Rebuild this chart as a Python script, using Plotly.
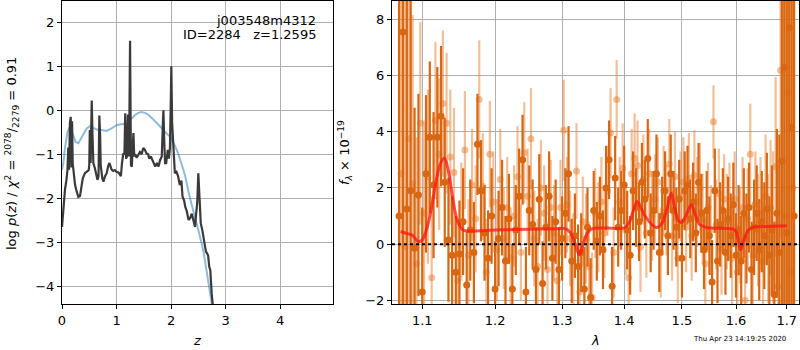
import plotly.graph_objects as go

# ---------------- left panel: p(z) ----------------
pz_z = [0.0, 0.01, 0.03, 0.055, 0.08, 0.10, 0.115, 0.13, 0.145, 0.16, 0.175, 0.185, 0.196,
        0.22, 0.24, 0.27, 0.30, 0.33, 0.36, 0.38, 0.42, 0.46, 0.49, 0.50, 0.51, 0.525, 0.545,
        0.56, 0.575, 0.60, 0.62, 0.65, 0.67, 0.685, 0.70, 0.71, 0.74, 0.76, 0.79, 0.82, 0.85,
        0.87, 0.91, 0.94, 0.97, 1.00, 1.04, 1.08, 1.10, 1.125, 1.145, 1.16, 1.175, 1.19, 1.21,
        1.23, 1.248, 1.265, 1.28, 1.295, 1.31, 1.325, 1.34, 1.37, 1.40, 1.43, 1.46, 1.49, 1.52,
        1.55, 1.58, 1.60, 1.63, 1.66, 1.69, 1.71, 1.74, 1.77, 1.80, 1.83, 1.85, 1.86, 1.875,
        1.89, 1.91, 1.94, 1.96, 1.98, 1.995, 2.005, 2.02, 2.04, 2.07, 2.10, 2.13, 2.16, 2.19,
        2.21, 2.24, 2.26, 2.29, 2.32, 2.35, 2.38, 2.41, 2.44, 2.46, 2.48, 2.50, 2.52, 2.545,
        2.57, 2.59, 2.62, 2.64, 2.66, 2.68, 2.70, 2.72, 2.745, 2.77, 2.80]
pz_logp = [-2.65, -2.45, -2.1, -1.8, -1.6, -1.36, -0.85, -1.35, -0.3, -0.15, -1.3, -0.25, -1.2,
           -1.5, -1.7, -1.85, -1.97, -1.95, -1.75, -1.55, -1.43, -1.40, -1.36, -1.25, -0.45, -1.2, 0.22,
           -0.6, -1.2, -1.3, -1.45, -1.58, -1.5, -0.12, -0.6, -1.25, -1.55, -1.62, -1.5, -1.43, -1.25,
           -1.2, -1.35, -1.38, -1.36, -1.40, -1.42, -1.5, -1.2, -0.98, -1.0, -0.07, -1.1, -1.05, -0.1,
           -1.05, 1.58, -1.25, -1.28, -0.9, -0.52, -1.05, -1.0, -1.08, -1.0, -0.95, -1.0, -0.86, -0.9,
           -0.98, -1.0, -1.1, -1.05, -1.15, -1.25, -1.28, -1.2, -1.28, -1.13, -1.05, -0.3, 0.0, -0.7,
           -1.2, -1.2, -0.9, -1.1, -0.85, 0.2, 1.0, -0.3, -0.67, -1.43, -1.4, -1.5, -1.7, -1.6,
           -1.96, -2.05, -2.19, -2.3, -2.49, -2.45, -2.35, -2.5, -2.65, -2.35, -2.1, -1.43, -1.9, -2.57,
           -2.7, -2.87, -3.1, -3.21, -3.25, -3.3, -3.55, -3.63, -4.16, -4.5, -4.9]

prior_z = [0.0, 0.025, 0.05, 0.075, 0.10, 0.13, 0.16, 0.20, 0.25, 0.30, 0.35, 0.40, 0.45, 0.51,
           0.57, 0.64, 0.72, 0.82, 0.90, 1.00, 1.08, 1.15, 1.20, 1.25, 1.30, 1.35, 1.40, 1.46,
           1.52, 1.58, 1.65, 1.72, 1.80, 1.88, 1.98, 2.05, 2.13, 2.20, 2.26, 2.32, 2.38, 2.43,
           2.47, 2.52, 2.56, 2.60, 2.65, 2.70, 2.75, 2.80]
prior_logp = [-1.35, -1.2, -0.9, -0.68, -0.5, -0.41, -0.42, -0.55, -0.72, -0.75, -0.65, -0.52, -0.42,
              -0.36, -0.40, -0.44, -0.45, -0.47, -0.42, -0.34, -0.32, -0.32, -0.31, -0.22, -0.15, -0.1,
              -0.06, -0.04, -0.06, -0.1, -0.18, -0.26, -0.37, -0.48, -0.6, -0.75, -0.98, -1.25, -1.5,
              -1.85, -2.19, -2.4, -2.57, -2.8, -3.02, -3.25, -3.63, -4.0, -4.39, -4.8]

# ---------------- right panel: spectrum ----------------
# grism spectrum, first orientation (dark)
lam_a = [1.070, 1.075, 1.080, 1.085, 1.090, 1.095, 1.100, 1.105, 1.110, 1.115,
         1.120, 1.125, 1.130, 1.135, 1.140, 1.145, 1.150, 1.155, 1.160, 1.165,
         1.170, 1.175, 1.180, 1.185, 1.190, 1.195, 1.200, 1.205, 1.210, 1.215,
         1.220, 1.225, 1.230, 1.235, 1.240, 1.245, 1.250, 1.255, 1.260, 1.265,
         1.270, 1.275, 1.280, 1.285, 1.290, 1.295, 1.300, 1.305, 1.310, 1.315,
         1.320, 1.325, 1.330, 1.335, 1.340, 1.345, 1.350, 1.355, 1.360, 1.365,
         1.370, 1.375, 1.380, 1.385, 1.390, 1.395, 1.400, 1.405, 1.410, 1.415,
         1.420, 1.425, 1.430, 1.435, 1.440, 1.445, 1.450, 1.455, 1.460, 1.465,
         1.470, 1.475, 1.480, 1.485, 1.490, 1.495, 1.500, 1.505, 1.510, 1.515,
         1.520, 1.525, 1.530, 1.535, 1.540, 1.545, 1.550, 1.555, 1.560, 1.565,
         1.570, 1.575, 1.580, 1.585, 1.590, 1.595, 1.600, 1.605, 1.610, 1.615,
         1.620, 1.625, 1.630, 1.635, 1.640, 1.645, 1.650, 1.655, 1.660, 1.665,
         1.670, 1.675, 1.680, 1.685, 1.690, 1.695, 1.700, 1.705, 1.710, 1.715]
flux_a = [1.0, 7.55, 1.25, 1.9, -0.15, 1.75, -1.7, 2.5, 3.8, 2.1,
          3.8, 4.55, 2.2, 0.15, -0.4, -1.0, -0.35, 0.8, -1.45, 0.5,
          -0.3, 3.55, 1.9, 0.4, -0.5, 1.0, -1.6, 0.2, 1.3, -0.6,
          0.9, -1.6, 0.5, 1.7, 3.0, -1.7, 1.2, 0.7, -0.9, 1.6,
          -1.4, 0.6, 1.7, -0.5, 0.8, -0.9, 0.2, 1.1, 2.5, -0.6,
          0.3, -0.8, -0.3, -1.6, 0.6, -1.9, 1.2, 0.1, 1.0, -0.2,
          2.0, 3.0, -1.5, 2.35, 0.6, 1.2, 2.1, 0.5, -0.4, 1.9,
          1.3, 0.8, 2.2, 1.6, 3.05, 0.4, 1.2, 2.5, -0.3, 1.0,
          1.9, 0.3, 2.5, 1.2, 0.6, 1.6, -0.5, 1.9, 2.1, 0.9,
          1.5, 0.4, 2.2, 1.1, -0.2, 1.2, 0.3, -1.35, 1.9, -0.6,
          0.7, 1.2, -0.3, 0.9, 0.3, 1.4, -0.4, 0.5, -0.6, 1.1,
          0.2, 1.3, -0.9, 0.6, 1.1, -0.2, 0.8, 0.3, 1.25, -0.4,
          0.5, -1.8, 1.1, -0.3, 2.95, 6.28, 0.4, 7.7, 4.15, 1.0]
err_a = [14, 14, 11, 7, 5, 3.6, 3.0, 2.8, 2.7, 2.6,
         2.5, 2.5, 2.3, 2.2, 2.1, 2.0, 1.9, 1.9, 1.9, 1.8,
         1.8, 1.8, 1.8, 1.7, 1.7, 1.7, 1.7, 1.7, 1.7, 1.6,
         1.6, 1.6, 1.6, 1.7, 1.6, 1.6, 1.6, 1.6, 1.5, 1.6,
         1.5, 1.5, 1.6, 1.5, 1.5, 1.5, 1.5, 1.6, 1.7, 1.5,
         1.5, 1.5, 1.4, 1.5, 1.4, 1.4, 1.4, 1.4, 1.4, 1.4,
         1.5, 1.4, 1.4, 1.5, 1.4, 1.4, 1.4, 1.4, 1.4, 1.4,
         1.4, 1.4, 1.4, 1.4, 1.4, 1.4, 1.4, 1.4, 1.4, 1.4,
         1.4, 1.4, 1.4, 1.4, 1.4, 1.4, 1.4, 1.4, 1.4, 1.4,
         1.4, 1.4, 1.4, 1.4, 1.4, 1.4, 1.4, 1.5, 1.5, 1.5,
         1.5, 1.5, 1.5, 1.5, 1.5, 1.5, 1.5, 1.6, 1.6, 1.6,
         1.6, 1.6, 1.7, 1.7, 1.7, 1.8, 1.8, 1.9, 2.0, 2.1,
         2.3, 2.6, 3.0, 4.2, 7, 10, 12, 14, 14, 14]

# second orientation (light)
lam_b = [1.0725, 1.0775, 1.0825, 1.0875, 1.0925, 1.0975, 1.1025, 1.1075, 1.1125, 1.1175,
         1.1225, 1.1275, 1.1325, 1.1375, 1.1425, 1.1475, 1.1525, 1.1575, 1.1625, 1.1675,
         1.1725, 1.1775, 1.1825, 1.1875, 1.1925, 1.1975, 1.2025, 1.2075, 1.2125, 1.2175,
         1.2225, 1.2275, 1.2325, 1.2375, 1.2425, 1.2475, 1.2525, 1.2575, 1.2625, 1.2675,
         1.2725, 1.2775, 1.2825, 1.2875, 1.2925, 1.2975, 1.3025, 1.3075, 1.3125, 1.3175,
         1.3225, 1.3275, 1.3325, 1.3375, 1.3425, 1.3475, 1.3525, 1.3575, 1.3625, 1.3675,
         1.3725, 1.3775, 1.3825, 1.3875, 1.3925, 1.3975, 1.4025, 1.4075, 1.4125, 1.4175,
         1.4225, 1.4275, 1.4325, 1.4375, 1.4425, 1.4475, 1.4525, 1.4575, 1.4625, 1.4675,
         1.4725, 1.4775, 1.4825, 1.4875, 1.4925, 1.4975, 1.5025, 1.5075, 1.5125, 1.5175,
         1.5225, 1.5275, 1.5325, 1.5375, 1.5425, 1.5475, 1.5525, 1.5575, 1.5625, 1.5675,
         1.5725, 1.5775, 1.5825, 1.5875, 1.5925, 1.5975, 1.6025, 1.6075, 1.6125, 1.6175,
         1.6225, 1.6275, 1.6325, 1.6375, 1.6425, 1.6475, 1.6525, 1.6575, 1.6625, 1.6675,
         1.6725, 1.6775, 1.6825, 1.6875, 1.6925, 1.6975, 1.7025, 1.7075, 1.7125]
flux_b = [2.5, -0.1, 3.75, 2.15, -0.7, 4.3, 1.1, 2.4, -1.2, 4.4,
          3.2, 5.0, 4.3, 3.1, 2.55, -1.3, 0.8, 3.35, -0.4, 2.1,
          0.9, 5.15, 2.05, -1.0, 3.2, 1.5, -0.2, 2.3, 0.2, 1.3,
          -0.5, 1.0, 2.4, -0.3, 3.25, 1.7, 3.75, 0.2, -0.8, 2.0,
          1.1, -0.9, 1.3, 0.4, -1.3, 1.3, 4.05, 1.4, 0.2, -0.6,
          2.6, -1.7, 0.8, 0.2, -0.8, -1.9, 1.1, 0.6, 1.5, 0.4,
          1.9, 3.95, -0.3, 5.15, 1.5, 2.7, 0.5, -1.2, 2.5, 3.05,
          2.8, -0.1, 2.3, 0.4, 2.5, 1.0, 1.6, 2.2, -0.3, 1.9,
          1.2, 2.85, 0.3, 2.4, -0.5, 1.7, 2.2, 0.6, 2.35, 0.3,
          2.45, 1.5, 2.0, 0.9, -0.7, 1.3, 0.5, 4.35, 0.7, 1.8,
          -0.2, 1.6, 0.8, 1.2, -0.5, 1.6, -1.0, 0.3, 1.3, -2.0,
          0.9, 3.2, -0.4, 1.4, 0.5, 1.1, -0.6, 1.7, 0.2, 1.3,
          0.6, 2.75, -1.5, 6.18, 2.95, 1.0, 5.4, -1.0, 2.0]
err_b = [14, 12, 9, 6, 4.5, 3.6, 3.3, 3.1, 2.9, 2.8,
         2.7, 2.6, 2.5, 2.4, 2.3, 2.2, 2.1, 2.1, 2.0, 2.0,
         1.9, 2.1, 1.9, 1.9, 1.9, 1.8, 1.8, 1.8, 1.8, 1.8,
         1.8, 1.8, 1.8, 1.7, 1.8, 1.7, 1.8, 1.7, 1.7, 1.7,
         1.7, 1.7, 1.7, 1.7, 1.7, 1.7, 1.8, 1.7, 1.7, 1.7,
         1.7, 1.7, 1.6, 1.6, 1.6, 1.6, 1.6, 1.6, 1.6, 1.6,
         1.6, 1.6, 1.6, 1.4, 1.6, 1.6, 1.6, 1.6, 1.6, 1.6,
         1.6, 1.6, 1.6, 1.6, 1.6, 1.6, 1.6, 1.6, 1.6, 1.6,
         1.6, 1.6, 1.6, 1.6, 1.6, 1.6, 1.6, 1.6, 1.6, 1.6,
         1.6, 1.6, 1.6, 1.6, 1.6, 1.6, 1.6, 1.3, 1.6, 1.6,
         1.6, 1.6, 1.7, 1.7, 1.7, 1.7, 1.7, 1.7, 1.8, 1.8,
         1.8, 1.8, 1.9, 1.9, 2.0, 2.0, 2.1, 2.2, 2.3, 2.4,
         2.7, 3.2, 4.3, 6, 9, 12, 14, 14, 14]

# best-fit model
model_lam = [1.072, 1.080, 1.087, 1.091, 1.095, 1.100, 1.106, 1.112, 1.118, 1.124, 1.1296,
             1.135, 1.141, 1.147, 1.155, 1.165, 1.20, 1.25, 1.29, 1.305, 1.313, 1.320, 1.327,
             1.333, 1.340, 1.348, 1.37, 1.40, 1.408, 1.415, 1.4216, 1.428, 1.437, 1.4545, 1.465,
             1.474, 1.4808, 1.487, 1.494, 1.50, 1.508, 1.5168, 1.524, 1.532, 1.5475, 1.58, 1.598,
             1.604, 1.609, 1.615, 1.624, 1.633, 1.66, 1.70]
model_flux = [0.45, 0.38, 0.32, 0.2, 0.09, 0.15, 0.55, 1.25, 2.2, 2.85, 3.06,
              2.6, 1.6, 0.85, 0.5, 0.47, 0.5, 0.53, 0.55, 0.55, 0.4, 0.05, -0.38,
              0.0, 0.4, 0.55, 0.57, 0.58, 0.75, 1.15, 1.52, 1.3, 0.95, 0.59, 0.75,
              1.3, 1.81, 1.3, 0.82, 0.78, 1.05, 1.4, 1.05, 0.7, 0.58, 0.56, 0.5,
              0.2, -0.2, 0.15, 0.5, 0.6, 0.63, 0.65]

lam_ticks = [1.1, 1.2, 1.3, 1.4, 1.5, 1.6, 1.7]
lam_ticktext = ["1.1", "1.2", "1.3", "1.4", "1.5", "1.6", "1.7"]

DARK = "rgb(217,102,17)"
LIGHT = "rgba(232,128,50,0.5)"
FONT = "DejaVu Sans"

fig = go.Figure()

fig.add_trace(go.Scatter(x=prior_z, y=prior_logp, mode="lines",
                         line=dict(color="rgba(31,119,180,0.5)", width=2),
                         xaxis="x", yaxis="y", showlegend=False))
fig.add_trace(go.Scatter(x=pz_z, y=pz_logp, mode="lines",
                         line=dict(color="#3a3a3a", width=2.2),
                         xaxis="x", yaxis="y", showlegend=False))

fig.add_trace(go.Scatter(x=lam_b, y=flux_b, mode="markers",
                         marker=dict(color=LIGHT, size=7),
                         error_y=dict(type="data", array=err_b, color=LIGHT, thickness=2.2, width=0),
                         xaxis="x2", yaxis="y2", showlegend=False))
fig.add_trace(go.Scatter(x=lam_a, y=flux_a, mode="markers",
                         marker=dict(color=DARK, size=7),
                         error_y=dict(type="data", array=err_a, color=DARK, thickness=2.2, width=0),
                         xaxis="x2", yaxis="y2", showlegend=False))
fig.add_trace(go.Scatter(x=model_lam, y=model_flux, mode="lines",
                         line=dict(color="rgba(255,20,20,0.75)", width=3, shape="spline"),
                         xaxis="x2", yaxis="y2", showlegend=False))

fig.add_shape(type="line", xref="x2 domain", yref="y2", x0=0, x1=1, y0=0, y1=0,
              line=dict(color="black", width=2, dash="dot"))

axis_common = dict(showline=True, linecolor="black", linewidth=1, mirror=True,
                   showgrid=True, gridcolor="#b0b0b0", gridwidth=1,
                   ticks="outside", ticklen=4, tickcolor="black",
                   tickfont=dict(family=FONT, size=13, color="black"),
                   zeroline=False, automargin=False)

fig.update_layout(
    template="none",
    width=800, height=350,
    margin=dict(l=0, r=0, t=0, b=0, pad=0),
    paper_bgcolor="white", plot_bgcolor="white",
    font=dict(family=FONT, color="black"),
    xaxis=dict(domain=[62/800, 333/800], range=[0, 4.97], dtick=1, anchor="y", **axis_common),
    yaxis=dict(domain=[1 - 304/350, 1 - 1/350], range=[-4.4, 2.48], dtick=1, anchor="x", **axis_common),
    xaxis2=dict(domain=[392/800, 799/800], type="log", range=[0.02572, 0.23679],
                tickvals=lam_ticks, ticktext=lam_ticktext, anchor="y2", **axis_common),
    yaxis2=dict(domain=[1 - 304/350, 1 - 1/350], range=[-2.13, 8.65], dtick=2, anchor="x2", **axis_common),
)

ann = [
    dict(x=318/800, y=1 - 20/350, text="j003548m4312", xanchor="right", yanchor="middle"),
    dict(x=318/800, y=1 - 35/350, text="ID=2284   z=1.2595", xanchor="right", yanchor="middle"),
    dict(x=197/800, y=1 - 340/350, text="<i>z</i>", xanchor="center", yanchor="middle"),
    dict(x=595/800, y=1 - 340/350, text="<i>λ</i>", xanchor="center", yanchor="middle"),
    dict(x=12/800, y=1 - 154/350, text="log <i>p</i>(<i>z</i>) / <i>χ</i><sup>2</sup> = <sup>2078</sup>/<sub>2279</sub> = 0.91",
         xanchor="center", yanchor="middle", textangle=-90),
    dict(x=345/800, y=1 - 153/350, text="<i>f</i><sub><i>λ</i></sub> × 10<sup>−19</sup>",
         xanchor="center", yanchor="middle", textangle=-90),
]
for a in ann:
    a.update(xref="paper", yref="paper", showarrow=False,
             font=dict(family=FONT, size=13, color="black"))
    fig.add_annotation(**a)

fig.add_annotation(x=788/800, y=1 - 339/350, xref="paper", yref="paper", showarrow=False,
                   text="Thu Apr 23 14:19:25 2020", xanchor="right", yanchor="middle",
                   font=dict(family=FONT, size=7, color="black"))

fig.write_html("out.html", config={"displayModeBar": False},
               post_script="document.body.style.margin='0px';document.body.style.overflow='hidden';")
